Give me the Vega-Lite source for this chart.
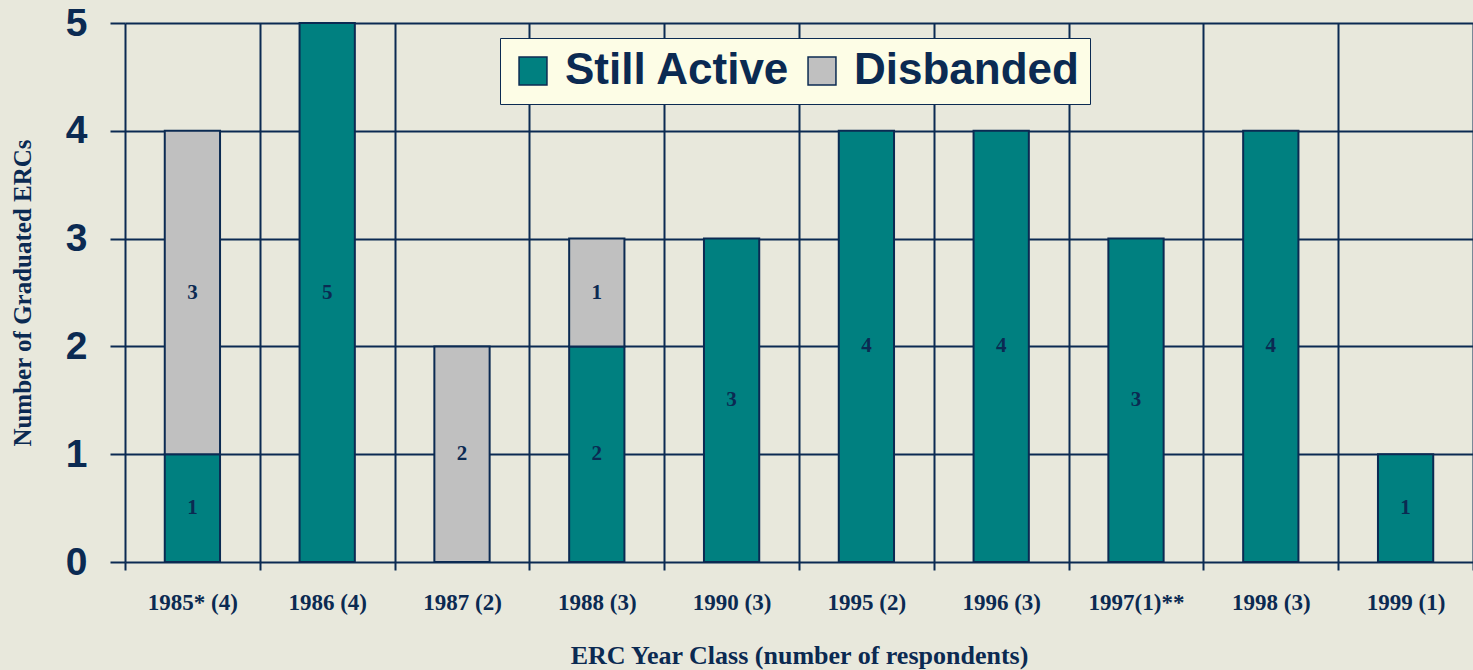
{
  "$schema": "https://vega.github.io/schema/vega-lite/v6.json",
  "autosize": {"type": "none"},
  "padding": {"left": 125, "top": 23, "right": 0, "bottom": 108},
  "width": 1348,
  "height": 539,
  "background": "#e8e8dc",
  "config": {
    "view": {"stroke": null},
    "axis": {"domain": false, "gridColor": "#0b2a52", "gridOpacity": 1, "gridWidth": 2, "tickColor": "#0b2a52", "tickWidth": 2, "labelColor": "#0b2a52", "titleColor": "#0b2a52"}
  },
  "data": {
    "values": [
      {"year": "1985* (4)", "status": "Still Active", "count": 1, "ord": 1},
      {"year": "1985* (4)", "status": "Disbanded", "count": 3, "ord": 2},
      {"year": "1986 (4)", "status": "Still Active", "count": 5, "ord": 1},
      {"year": "1987 (2)", "status": "Disbanded", "count": 2, "ord": 2},
      {"year": "1988 (3)", "status": "Still Active", "count": 2, "ord": 1},
      {"year": "1988 (3)", "status": "Disbanded", "count": 1, "ord": 2},
      {"year": "1990 (3)", "status": "Still Active", "count": 3, "ord": 1},
      {"year": "1995 (2)", "status": "Still Active", "count": 4, "ord": 1},
      {"year": "1996 (3)", "status": "Still Active", "count": 4, "ord": 1},
      {"year": "1997(1)**", "status": "Still Active", "count": 3, "ord": 1},
      {"year": "1998 (3)", "status": "Still Active", "count": 4, "ord": 1},
      {"year": "1999 (1)", "status": "Still Active", "count": 1, "ord": 1}
    ]
  },
  "transform": [
    {"stack": "count", "groupby": ["year"], "sort": [{"field": "ord"}], "as": ["y0", "y1"]},
    {"calculate": "(datum.y0 + datum.y1) / 2", "as": "ymid"}
  ],
  "encoding": {
    "x": {
      "field": "year", "type": "nominal", "sort": null,
      "scale": {"paddingInner": 0, "paddingOuter": 0},
      "axis": {"title": "ERC Year Class (number of respondents)", "labelAngle": 0, "tickBand": "extent", "grid": true, "tickSize": 8, "labelPadding": 21, "labelFont": "Liberation Serif", "labelFontWeight": "bold", "labelFontSize": 23, "titleFont": "Liberation Serif", "titleFontWeight": "bold", "titleFontSize": 26, "titlePadding": 28}
    }
  },
  "layer": [
    {
      "mark": {"type": "bar", "width": {"band": 0.41}, "stroke": "#0b2a52", "strokeWidth": 2},
      "encoding": {
        "y": {"field": "y0", "type": "quantitative", "scale": {"domain": [0, 5]},
          "axis": {"title": "Number of Graduated ERCs", "values": [0, 1, 2, 3, 4, 5], "format": "d", "grid": true, "tickSize": 15, "labelPadding": 23, "labelFont": "Liberation Sans", "labelFontWeight": "bold", "labelFontSize": 39, "titleFont": "Liberation Serif", "titleFontWeight": "bold", "titleFontSize": 25, "titlePadding": 30}},
        "y2": {"field": "y1"},
        "color": {"field": "status", "type": "nominal",
          "scale": {"domain": ["Still Active", "Disbanded"], "range": ["#008080", "#c0c0c0"]},
          "legend": {"title": null, "orient": "none", "legendX": 375, "legendY": 15, "direction": "horizontal",
            "fillColor": "#fdfde6", "strokeColor": "#0b2a52", "padding": 11,
            "symbolType": "square", "symbolSize": 780, "symbolStrokeColor": "#0b2a52", "symbolStrokeWidth": 1.5,
            "labelFont": "Liberation Sans", "labelFontWeight": "bold", "labelFontSize": 44, "labelColor": "#0b2a52",
            "labelLimit": 400, "columnPadding": 10, "labelOffset": 10}}
      }
    },
    {
      "mark": {"type": "text", "font": "Liberation Serif", "fontWeight": "bold", "fontSize": 21, "color": "#0b2a52"},
      "encoding": {
        "y": {"field": "ymid", "type": "quantitative"},
        "text": {"field": "count", "type": "quantitative"}
      }
    }
  ]
}
